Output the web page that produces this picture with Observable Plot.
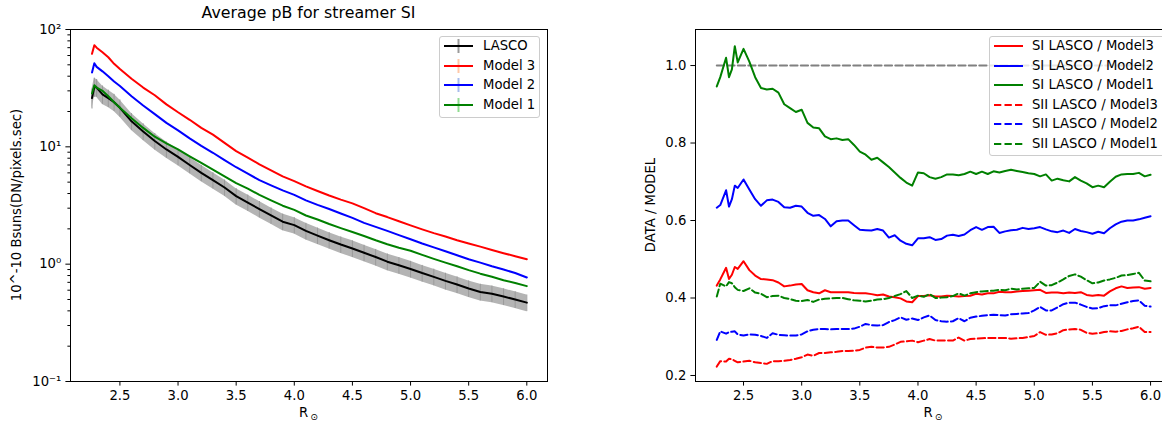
<!DOCTYPE html>
<html><head><meta charset="utf-8">
<script src="https://cdn.jsdelivr.net/npm/d3@7"></script>
<script src="https://cdn.jsdelivr.net/npm/@observablehq/plot@0.6"></script>
<style>
html,body{margin:0;padding:0;background:#fff;overflow:hidden}
#page{position:relative;width:1162px;height:423px;overflow:hidden;font-family:"DejaVu Sans",sans-serif;color:#000;background:#fff}
.lbl{position:absolute;white-space:nowrap;transform:translate(-50%,-50%);line-height:1}
.legend{position:absolute;background:rgba(255,255,255,0.8);border:1px solid #cccccc;border-radius:3px;box-sizing:border-box}
.ltext{position:absolute;white-space:nowrap;font-size:13.2px;line-height:1;transform:translateY(-50%)}
.handle{position:absolute;overflow:visible}
</style></head>
<body><div id="page"></div>
<script>
// ---------------- LEFT PANEL DATA (Average pB for streamer SI) ----------------
const rLeft = [2.26, 2.28, 2.30, 2.35, 2.40, 2.45, 2.50,
  2.60, 2.70, 2.80, 2.90, 3.00, 3.10, 3.20, 3.30, 3.40, 3.50,
  3.60, 3.70, 3.80, 3.90, 4.00, 4.10, 4.20, 4.30, 4.40, 4.50,
  4.60, 4.70, 4.80, 4.90, 5.00, 5.10, 5.20, 5.30, 5.40, 5.50,
  5.60, 5.70, 5.80, 5.90, 6.00];
const lasco = [26, 32.5, 32, 28, 26, 24, 21.5,
  16.5, 13.5, 11.2, 9.5, 8.2, 7.0, 6.0, 5.2, 4.5, 3.8,
  3.35, 2.95, 2.6, 2.3, 2.15, 1.92, 1.75, 1.6, 1.47, 1.36,
  1.25, 1.15, 1.05, 0.98, 0.91, 0.84, 0.78, 0.72, 0.67, 0.62,
  0.58, 0.56, 0.53, 0.50, 0.47];
const lascoErr = [5, 6, 5.5, 5, 4.4, 4, 3.6,
  2.7, 2.2, 1.8, 1.5, 1.3, 1.1, 0.95, 0.82, 0.71, 0.6,
  0.53, 0.47, 0.41, 0.37, 0.34, 0.31, 0.28, 0.255, 0.235, 0.22,
  0.2, 0.185, 0.17, 0.158, 0.147, 0.136, 0.126, 0.117, 0.109, 0.1,
  0.094, 0.09, 0.086, 0.081, 0.076];
const model3 = [62, 73.5, 70, 64, 58, 51, 46,
  38, 32, 27.5, 23, 19.7, 17, 14.5, 12.7, 10.8, 9.2,
  8.1, 7.1, 6.3, 5.6, 5.1, 4.6, 4.2, 3.85, 3.55, 3.3,
  3.0, 2.72, 2.52, 2.32, 2.14, 1.98, 1.84, 1.72, 1.6, 1.5,
  1.41, 1.32, 1.24, 1.17, 1.1];
const model2 = [43, 51.5, 48, 44, 40, 36, 33,
  27, 22.5, 19, 16, 13.8, 11.8, 10.2, 8.9, 7.7, 6.7,
  5.9, 5.2, 4.7, 4.25, 3.9, 3.5, 3.2, 2.95, 2.7, 2.48,
  2.25, 2.08, 1.92, 1.77, 1.63, 1.5, 1.39, 1.29, 1.19, 1.1,
  1.03, 0.96, 0.9, 0.84, 0.77];
const model1 = [28.5, 33.5, 32, 30, 27, 24, 21.5,
  17.5, 14.5, 12.2, 10.7, 9.5, 8.3, 7.3, 6.4, 5.6, 4.9,
  4.4, 3.9, 3.5, 3.15, 2.9, 2.6, 2.4, 2.2, 2.03, 1.88,
  1.74, 1.6, 1.48, 1.38, 1.3, 1.2, 1.11, 1.03, 0.96, 0.89,
  0.83, 0.78, 0.73, 0.69, 0.65];

const leftTitle = "Average pB for streamer SI";
const leftYLabel = "10^-10 Bsuns(DN/pixels.sec)";
const leftNames = ["LASCO", "Model 3", "Model 2", "Model 1"];
const xTicks = [2.5, 3.0, 3.5, 4.0, 4.5, 5.0, 5.5, 6.0];
const logTicks = [0.1, 1, 10, 100];
const logTickLabels = ["10\u207B\u00B9", "10\u2070", "10\u00B9", "10\u00B2"];
const logMinor = [0.2, 0.3, 0.4, 0.5, 0.6, 0.7, 0.8, 0.9, 2, 3, 4, 5, 6, 7, 8, 9, 20, 30, 40, 50, 60, 70, 80, 90];

// ---------------- RIGHT PANEL DATA (DATA / MODEL) ----------------
const rRight = [2.27, 2.30, 2.35, 2.375, 2.40, 2.425, 2.45, 2.50, 2.55, 2.60,
  2.65, 2.70, 2.75, 2.80, 2.85, 2.90, 2.95, 3.00, 3.05, 3.10,
  3.15, 3.20, 3.25, 3.30, 3.35, 3.40, 3.45, 3.50, 3.55, 3.60,
  3.65, 3.70, 3.75, 3.80, 3.85, 3.90, 3.95, 4.00, 4.05, 4.10,
  4.15, 4.20, 4.25, 4.30, 4.35, 4.40, 4.45, 4.50, 4.55, 4.60,
  4.65, 4.70, 4.75, 4.80, 4.85, 4.90, 4.95, 5.00, 5.05, 5.10,
  5.15, 5.20, 5.25, 5.30, 5.35, 5.40, 5.45, 5.50, 5.55, 5.60,
  5.65, 5.70, 5.75, 5.80, 5.85, 5.90, 5.95, 6.00];
const siModel3 = [0.432, 0.448, 0.478, 0.449, 0.46, 0.48, 0.475, 0.495, 0.472, 0.458,
  0.449, 0.448, 0.446, 0.44, 0.43, 0.432, 0.435, 0.436, 0.42, 0.415,
  0.412, 0.42, 0.415, 0.415, 0.415, 0.415, 0.413, 0.412, 0.412, 0.41,
  0.407, 0.409, 0.404, 0.402, 0.399, 0.391, 0.389, 0.405, 0.405, 0.407,
  0.404, 0.404, 0.406, 0.405, 0.404, 0.405, 0.406, 0.411, 0.409, 0.412,
  0.412, 0.416, 0.415, 0.415, 0.417, 0.418, 0.419, 0.42, 0.421, 0.413,
  0.414, 0.414, 0.412, 0.414, 0.413, 0.415, 0.408, 0.406, 0.408, 0.406,
  0.417, 0.425, 0.43, 0.426, 0.427, 0.428, 0.424, 0.426];
const siModel2 = [0.633, 0.64, 0.678, 0.636, 0.655, 0.69, 0.684, 0.706, 0.68, 0.655,
  0.638, 0.652, 0.654, 0.648, 0.634, 0.633, 0.638, 0.636, 0.62, 0.612,
  0.614, 0.604, 0.585, 0.598, 0.6, 0.6, 0.588, 0.576, 0.575, 0.574,
  0.578, 0.574, 0.556, 0.562, 0.548, 0.54, 0.536, 0.554, 0.554, 0.557,
  0.55, 0.552, 0.561, 0.563, 0.56, 0.564, 0.575, 0.583, 0.576, 0.583,
  0.584, 0.568, 0.572, 0.575, 0.576, 0.581, 0.578, 0.58, 0.583, 0.577,
  0.572, 0.57, 0.574, 0.568, 0.578, 0.573, 0.57, 0.566, 0.571, 0.567,
  0.58, 0.59, 0.597, 0.6, 0.6, 0.603, 0.607, 0.611];
const siModel1 = [0.946, 0.97, 1.02, 0.97, 0.99, 1.05, 1.008, 1.043, 1.01, 0.97,
  0.942, 0.938, 0.94, 0.93, 0.9, 0.89, 0.88, 0.886, 0.852, 0.84,
  0.838, 0.817, 0.81, 0.812, 0.808, 0.81, 0.795, 0.778, 0.77, 0.757,
  0.762, 0.75, 0.738, 0.724, 0.71, 0.698, 0.69, 0.724, 0.722, 0.712,
  0.708, 0.712, 0.719, 0.719, 0.717, 0.72, 0.726, 0.72, 0.726, 0.72,
  0.727, 0.724, 0.728, 0.731, 0.728, 0.725, 0.722, 0.72, 0.714, 0.719,
  0.703, 0.708, 0.704, 0.701, 0.712, 0.703, 0.696, 0.686, 0.69, 0.686,
  0.7, 0.713, 0.719, 0.72, 0.72, 0.723, 0.714, 0.718];
const siiModel3 = [0.223, 0.237, 0.236, 0.243, 0.242, 0.238, 0.234, 0.236, 0.238, 0.234,
  0.232, 0.23, 0.237, 0.237, 0.238, 0.24, 0.243, 0.247, 0.254, 0.251,
  0.258, 0.258, 0.26, 0.261, 0.263, 0.263, 0.264, 0.266, 0.272, 0.274,
  0.272, 0.272, 0.274, 0.28, 0.287, 0.288, 0.29, 0.286, 0.29, 0.294,
  0.29, 0.29, 0.29, 0.29, 0.298, 0.29, 0.294, 0.295, 0.296, 0.297,
  0.297, 0.297, 0.297, 0.295, 0.296, 0.297, 0.299, 0.302, 0.312, 0.305,
  0.306, 0.309, 0.317, 0.319, 0.32, 0.318, 0.31, 0.308, 0.309, 0.312,
  0.314, 0.313, 0.315, 0.319, 0.322, 0.326, 0.312, 0.312];
const siiModel2 = [0.292, 0.314, 0.308, 0.312, 0.313, 0.314, 0.306, 0.303, 0.306, 0.305,
  0.302, 0.297, 0.309, 0.305, 0.304, 0.303, 0.303, 0.306, 0.314, 0.318,
  0.32, 0.32, 0.319, 0.32, 0.32, 0.32, 0.321, 0.326, 0.333, 0.33,
  0.329, 0.33, 0.338, 0.343, 0.35, 0.344, 0.347, 0.343, 0.35, 0.355,
  0.343, 0.34, 0.339, 0.34, 0.348, 0.34, 0.349, 0.352, 0.354, 0.356,
  0.357, 0.356, 0.355, 0.358, 0.359, 0.36, 0.361, 0.368, 0.377, 0.368,
  0.368, 0.376, 0.384, 0.388, 0.388, 0.383, 0.377, 0.373, 0.374, 0.379,
  0.381, 0.381, 0.385, 0.389, 0.392, 0.394, 0.38, 0.378];
const siiModel1 = [0.404, 0.437, 0.43, 0.441, 0.438, 0.428, 0.421, 0.418, 0.425, 0.414,
  0.411, 0.402, 0.405, 0.406, 0.4, 0.397, 0.393, 0.392, 0.395, 0.39,
  0.396, 0.398, 0.399, 0.4, 0.4, 0.397, 0.394, 0.393, 0.391, 0.393,
  0.396, 0.397, 0.4, 0.405, 0.41, 0.418, 0.4, 0.406, 0.403, 0.41,
  0.4, 0.401, 0.402, 0.405, 0.412, 0.406, 0.412, 0.415, 0.417, 0.418,
  0.419, 0.421, 0.42, 0.424, 0.422, 0.424, 0.425, 0.426, 0.442, 0.432,
  0.433, 0.44, 0.448, 0.457, 0.461, 0.455, 0.446, 0.438, 0.44, 0.445,
  0.448, 0.452, 0.458, 0.459, 0.462, 0.465, 0.445, 0.443];
const referenceRatio = 1.0;
const rightYLabel = "DATA / MODEL";
const rightNames = ["SI LASCO / Model3", "SI LASCO / Model2", "SI LASCO / Model1",
  "SII LASCO / Model3", "SII LASCO / Model2", "SII LASCO / Model1"];
const ratioTicks = [0.2, 0.4, 0.6, 0.8, 1.0];

// ---------------- BUILD ----------------
const page = document.getElementById("page");
const RED = "#ff0000", BLUE = "#0000ff", GREEN = "#008000";
const DASH = "7.3,3.2";
const plotStyle = {fontFamily: "DejaVu Sans", fontSize: "13.2px", color: "black", background: "transparent", overflow: "visible"};

const leftData = rLeft.map((r, i) => ({r, lasco: lasco[i], lo: lasco[i] - lascoErr[i], hi: lasco[i] + lascoErr[i],
  m3: model3[i], m2: model2[i], m1: model1[i]}));

const left = Plot.plot({
  width: 580, height: 423,
  marginLeft: 70, marginRight: 33, marginTop: 29, marginBottom: 42,
  style: plotStyle,
  x: {domain: [2.075, 6.178]},
  y: {type: "log", domain: [0.1, 100]},
  marks: [
    Plot.areaY(leftData, {x: "r", y1: "lo", y2: "hi", fill: "#b4b4b4"}),
    Plot.ruleX(leftData, {x: "r", y1: "lo", y2: "hi", stroke: "#9a9a9a", strokeWidth: 1}),
    Plot.line(leftData, {x: "r", y: "lasco", stroke: "black", strokeWidth: 2}),
    Plot.line(leftData, {x: "r", y: "m3", stroke: RED, strokeWidth: 2}),
    Plot.line(leftData, {x: "r", y: "m2", stroke: BLUE, strokeWidth: 2}),
    Plot.line(leftData, {x: "r", y: "m1", stroke: GREEN, strokeWidth: 2}),
    Plot.axisX({ticks: xTicks, tickSize: 4.6, tickPadding: 4.6, tickFormat: d => d.toFixed(1), label: null}),
    Plot.axisY({ticks: logTicks, tickSize: 4.6, tickPadding: 4.6, tickFormat: d => logTickLabels[logTicks.indexOf(d)], label: null}),
    Plot.axisY({ticks: logMinor, tickSize: 2.6, tickFormat: () => "", label: null}),
    Plot.frame({stroke: "black", strokeWidth: 1})
  ]
});
left.style.position = "absolute"; left.style.left = "0px"; left.style.top = "0px";
page.appendChild(left);

const rightSeries = [
  {name: rightNames[0], values: siModel3, color: RED, dash: null},
  {name: rightNames[1], values: siModel2, color: BLUE, dash: null},
  {name: rightNames[2], values: siModel1, color: GREEN, dash: null},
  {name: rightNames[3], values: siiModel3, color: RED, dash: DASH},
  {name: rightNames[4], values: siiModel2, color: BLUE, dash: DASH},
  {name: rightNames[5], values: siiModel1, color: GREEN, dash: DASH}
];
const refLine = [{r: rRight[0], v: referenceRatio}, {r: rRight[rRight.length - 1], v: referenceRatio}];

const right = Plot.plot({
  width: 600, height: 423,
  marginLeft: 115, marginRight: 9, marginTop: 29, marginBottom: 42,
  style: plotStyle,
  x: {domain: [2.087, 6.18]},
  y: {domain: [0.1845, 1.093]},
  marks: [
    Plot.line(refLine, {x: "r", y: "v", stroke: "#808080", strokeWidth: 2, strokeDasharray: DASH}),
    ...rightSeries.map(s => Plot.line(rRight.map((r, i) => ({r, v: s.values[i]})),
      {x: "r", y: "v", stroke: s.color, strokeWidth: 2, strokeDasharray: s.dash || undefined})),
    Plot.axisX({ticks: xTicks, tickSize: 4.6, tickPadding: 4.6, tickFormat: d => d.toFixed(1), label: null}),
    Plot.axisY({ticks: ratioTicks, tickSize: 4.6, tickPadding: 4.6, tickFormat: d => d.toFixed(1), label: null}),
    Plot.frame({stroke: "black", strokeWidth: 1})
  ]
});
right.style.position = "absolute"; right.style.left = "580px"; right.style.top = "0px";
page.appendChild(right);

// ---------------- TEXT ----------------
function addText(html, x, y, size, rotate) {
  const d = document.createElement("div");
  d.className = "lbl";
  d.innerHTML = html;
  d.style.left = x + "px"; d.style.top = y + "px"; d.style.fontSize = size + "px";
  if (rotate) d.style.transform = "translate(-50%,-50%) rotate(-90deg)";
  page.appendChild(d);
}
const rsun = 'R<span style="font-size:70%;position:relative;top:0.35em;margin-left:2px">\u2299</span>';
addText(leftTitle, 308.5, 13, 15.8, false);
addText(rsun, 308.5, 413, 13.2, false);
addText(rsun, 933, 413, 13.2, false);
addText(leftYLabel, 17, 205, 13.2, true);
addText(rightYLabel, 651, 205, 13.2, true);

// ---------------- LEGENDS ----------------
const NS = "http://www.w3.org/2000/svg";
function addLegend(box, entries, hx0, hx1, tx, y0, step) {
  const lg = document.createElement("div");
  lg.className = "legend";
  Object.assign(lg.style, {left: box[0] + "px", top: box[1] + "px", width: box[2] + "px", height: box[3] + "px"});
  page.appendChild(lg);
  entries.forEach((e, i) => {
    const y = y0 + i * step;
    const svg = document.createElementNS(NS, "svg");
    svg.setAttribute("class", "handle");
    svg.setAttribute("width", hx1 - hx0); svg.setAttribute("height", 18);
    svg.style.left = hx0 + "px"; svg.style.top = (y - 9) + "px";
    if (e.bar) {
      const v = document.createElementNS(NS, "line");
      const mx = (hx1 - hx0) / 2;
      v.setAttribute("x1", mx); v.setAttribute("x2", mx); v.setAttribute("y1", 2); v.setAttribute("y2", 16);
      v.setAttribute("stroke", e.bar); v.setAttribute("stroke-width", 2);
      svg.appendChild(v);
    }
    const l = document.createElementNS(NS, "line");
    l.setAttribute("x1", 0); l.setAttribute("x2", hx1 - hx0); l.setAttribute("y1", 9); l.setAttribute("y2", 9);
    l.setAttribute("stroke", e.color); l.setAttribute("stroke-width", 2);
    if (e.dash) l.setAttribute("stroke-dasharray", e.dash);
    svg.appendChild(l);
    page.appendChild(svg);
    const t = document.createElement("div");
    t.className = "ltext"; t.textContent = e.name;
    t.style.left = tx + "px"; t.style.top = y + "px";
    page.appendChild(t);
  });
}
addLegend([439, 36, 101, 82], [
  {name: leftNames[0], color: "black", bar: "#9a9a9a"},
  {name: leftNames[1], color: RED, bar: "#ffc8a8"},
  {name: leftNames[2], color: BLUE, bar: "#a8bcec"},
  {name: leftNames[3], color: GREEN, bar: "#90dc90"}
], 444, 473, 483, 46, 19.7);
addLegend([989, 36, 200, 120], rightSeries.map(s => ({name: s.name, color: s.color, dash: s.dash})),
  994, 1023, 1032, 46, 19.6);
</script>
</body></html>
